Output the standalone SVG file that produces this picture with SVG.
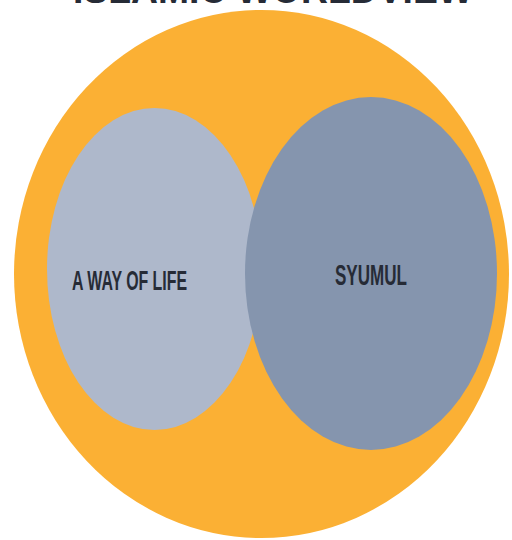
<svg xmlns="http://www.w3.org/2000/svg" width="512" height="540" viewBox="0 0 512 540">
  <style>
    .lbl { font-family: "Liberation Sans", Arial, sans-serif; font-weight: bold; fill: #262b36; }
  </style>
  <rect width="512" height="540" fill="#ffffff"/>
  <text class="lbl" x="73" y="3" font-size="40" textLength="400" lengthAdjust="spacingAndGlyphs" fill="#3a3a3a">ISLAMIC WORLDVIEW</text>
  <g id="outer">
    <ellipse cx="261.5" cy="274" rx="247.5" ry="264" fill="#FBB034"/>
  </g>
  <g id="way-of-life">
    <ellipse cx="154.5" cy="269" rx="107.5" ry="161" fill="#AEB8CB"/>
    <text class="lbl" x="72" y="290" font-size="28" textLength="115" lengthAdjust="spacingAndGlyphs">A WAY OF LIFE</text>
  </g>
  <g id="syumul">
    <ellipse cx="371" cy="273.5" rx="126" ry="176.5" fill="#8595AE"/>
    <text class="lbl" x="335" y="285" font-size="30" textLength="72" lengthAdjust="spacingAndGlyphs">SYUMUL</text>
  </g>
  <g id="connectors"/>
</svg>
